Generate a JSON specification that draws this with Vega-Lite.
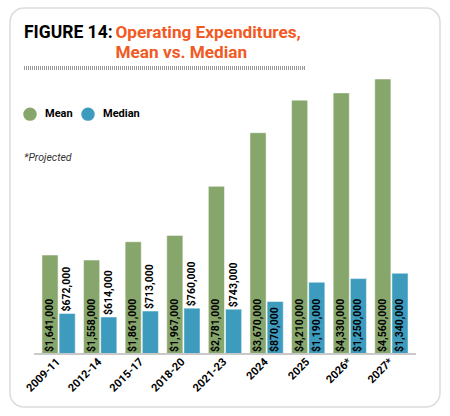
{
  "$schema": "https://vega.github.io/schema/vega-lite/v6.json",
  "description": "Figure 14: operating expenditures, mean vs. median.",
  "width": 430,
  "height": 399,
  "autosize": {"type": "none"},
  "padding": {"left": 10, "top": 8, "right": 10, "bottom": 9},
  "background": "white",
  "title": {
    "text": "FIGURE 14:",
    "subtitle": "*Projected",
    "anchor": "start",
    "frame": "group",
    "orient": "bottom",
    "offset": -383,
    "dx": 14,
    "baseline": "top",
    "font": "Roboto",
    "fontSize": 17.5,
    "fontWeight": "bold",
    "color": "#000000",
    "subtitleFont": "Roboto",
    "subtitleFontSize": 10.5,
    "subtitleFontStyle": "italic",
    "subtitleColor": "#333333",
    "subtitlePadding": 111
  },
  "data": {
    "values": [
      {"Period": "2009-11", "Measure": "Mean", "Value": 1641000},
      {"Period": "2009-11", "Measure": "Median", "Value": 672000},
      {"Period": "2012-14", "Measure": "Mean", "Value": 1558000},
      {"Period": "2012-14", "Measure": "Median", "Value": 614000},
      {"Period": "2015-17", "Measure": "Mean", "Value": 1861000},
      {"Period": "2015-17", "Measure": "Median", "Value": 713000},
      {"Period": "2018-20", "Measure": "Mean", "Value": 1967000},
      {"Period": "2018-20", "Measure": "Median", "Value": 760000},
      {"Period": "2021-23", "Measure": "Mean", "Value": 2781000},
      {"Period": "2021-23", "Measure": "Median", "Value": 743000},
      {"Period": "2024", "Measure": "Mean", "Value": 3670000},
      {"Period": "2024", "Measure": "Median", "Value": 870000},
      {"Period": "2025", "Measure": "Mean", "Value": 4210000},
      {"Period": "2025", "Measure": "Median", "Value": 1190000},
      {"Period": "2026*", "Measure": "Mean", "Value": 4330000},
      {"Period": "2026*", "Measure": "Median", "Value": 1250000},
      {"Period": "2027*", "Measure": "Mean", "Value": 4560000},
      {"Period": "2027*", "Measure": "Median", "Value": 1340000}
    ]
  },
  "layer": [
    {
      "mark": {"type": "bar", "stroke": "#ffffff", "strokeOpacity": 0.5, "strokeWidth": 1},
      "encoding": {
        "x": {
          "field": "Period",
          "type": "nominal",
          "sort": null,
          "scale": {"paddingInner": 0.2, "paddingOuter": 0.768},
          "axis": {
            "orient": "bottom",
            "offset": -53,
            "domain": false,
            "ticks": false,
            "labelAngle": -45,
            "labelAlign": "right",
            "labelBaseline": "middle",
            "labelPadding": 6,
            "labelFont": "Roboto",
            "labelFontWeight": "bold",
            "labelFontSize": 11,
            "labelColor": "#000000",
            "title": null
          }
        },
        "xOffset": {
          "field": "Measure",
          "type": "nominal",
          "scale": {"domain": ["Mean", "Median"], "paddingInner": 0.06}
        },
        "y": {
          "field": "Value",
          "type": "quantitative",
          "stack": null,
          "scale": {"domain": [-879000, 5738000], "nice": false, "zero": false},
          "axis": {
            "labels": false,
            "ticks": false,
            "domain": false,
            "grid": false,
            "title": ["Operating Expenditures,", "Mean vs. Median"],
            "titleAngle": 0,
            "titleAlign": "left",
            "titleBaseline": "alphabetic",
            "titleX": 105,
            "titleY": 29,
            "titleFont": "Roboto",
            "titleFontSize": 17.2,
            "titleFontWeight": "bold",
            "titleColor": "#F15A24",
            "titleLineHeight": 20
          }
        },
        "y2": {"datum": 0},
        "color": {
          "field": "Measure",
          "type": "nominal",
          "scale": {"domain": ["Mean", "Median"], "range": ["#87A66C", "#3D9BBE"]},
          "legend": {
            "title": null,
            "orient": "none",
            "direction": "horizontal",
            "legendX": 13,
            "legendY": 99,
            "symbolType": "circle",
            "symbolSize": 180,
            "symbolStrokeWidth": 0,
            "labelFont": "Roboto",
            "labelFontWeight": "bold",
            "labelFontSize": 11,
            "labelColor": "#000000",
            "labelOffset": 8,
            "columnPadding": 8
          }
        }
      }
    },
    {
      "transform": [{"filter": "datum.Measure === 'Mean'"}],
      "mark": {"type": "text", "angle": -90, "align": "left", "baseline": "middle", "dx": 2, "font": "Roboto", "fontWeight": "bold", "fontSize": 10.5, "color": "#000000"},
      "encoding": {
        "x": {"field": "Period", "type": "nominal", "sort": null},
        "xOffset": {"field": "Measure", "type": "nominal"},
        "y": {"datum": 0},
        "text": {"field": "Value", "type": "quantitative", "format": "$,.0f"}
      }
    },
    {
      "transform": [{"filter": "datum.Measure === 'Median' && indexof(['2009-11','2012-14','2015-17','2018-20','2021-23'], datum.Period) >= 0"}],
      "mark": {"type": "text", "angle": -90, "align": "left", "baseline": "middle", "dx": 2, "font": "Roboto", "fontWeight": "bold", "fontSize": 10.5, "color": "#000000"},
      "encoding": {
        "x": {"field": "Period", "type": "nominal", "sort": null},
        "xOffset": {"field": "Measure", "type": "nominal"},
        "y": {"field": "Value", "type": "quantitative"},
        "text": {"field": "Value", "type": "quantitative", "format": "$,.0f"}
      }
    },
    {
      "transform": [{"filter": "datum.Measure === 'Median' && indexof(['2009-11','2012-14','2015-17','2018-20','2021-23'], datum.Period) < 0"}],
      "mark": {"type": "text", "angle": -90, "align": "left", "baseline": "middle", "dx": 2, "font": "Roboto", "fontWeight": "bold", "fontSize": 10.5, "color": "#000000"},
      "encoding": {
        "x": {"field": "Period", "type": "nominal", "sort": null},
        "xOffset": {"field": "Measure", "type": "nominal"},
        "y": {"datum": 0},
        "text": {"field": "Value", "type": "quantitative", "format": "$,.0f"}
      }
    },
    {
      "mark": {"type": "rule", "color": "#c8c8c8", "strokeWidth": 1.5},
      "encoding": {
        "x": {"datum": "2009-11", "type": "nominal", "bandPosition": -0.24},
        "x2": {"datum": "2027*", "bandPosition": 1.24},
        "y": {"datum": 0}
      }
    },
    {
      "mark": {"type": "rule", "color": "#9a9a9a", "strokeWidth": 3, "strokeDash": [1, 1]},
      "encoding": {
        "x": {"datum": "2009-11", "type": "nominal", "bandPosition": -0.54},
        "x2": {"datum": "2025", "bandPosition": 0.4},
        "y": {"datum": 4743000}
      }
    }
  ],
  "config": {
    "view": {"stroke": "#dcdcdc", "strokeWidth": 1.5, "cornerRadius": 14}
  }
}
